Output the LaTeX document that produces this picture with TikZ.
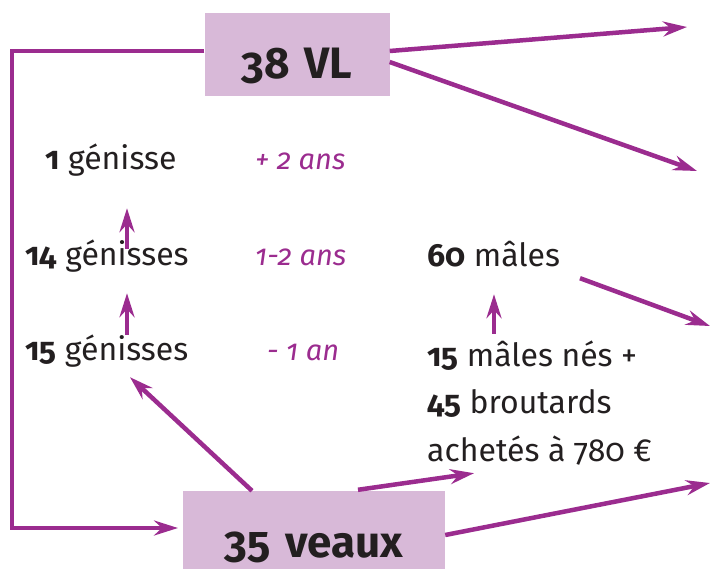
\documentclass[tikz,border=0pt]{standalone}
\usepackage{fontspec}
\setmainfont{Fira Sans}[Numbers=OldStyle]
\usetikzlibrary{arrows.meta}
\definecolor{violet}{HTML}{9B2C8F}
\definecolor{lilas}{HTML}{D8B9D8}
\definecolor{encre}{HTML}{231F20}

\begin{document}
\begin{tikzpicture}[x=1pt, y=-1pt]
        \tikzstyle{box}=[fill=lilas,text=encre,inner sep=0pt,align=center,font=\fontsize{44}{46}\selectfont\bfseries]
        \tikzstyle{count}=[anchor=base west,inner sep=0pt,text=encre,text height=20pt,text depth=6pt,font=\fontsize{32}{34}\selectfont]
        \tikzstyle{age}=[anchor=base west,inner sep=0pt,text=violet,font=\fontsize{29}{32}\selectfont\itshape]
        \tikzstyle{flow}=[draw=violet,line width=4.5pt,-{Stealth[length=24pt,width=15pt,inset=8pt]}]

        \useasboundingbox (0,0) rectangle (710,568);

        \node[box,anchor=base,text width=185pt,text height=65pt,text depth=18pt] (VL) at (297,78) {38 VL};
        \node[box,anchor=base,text width=262pt,text height=66pt,text depth=22pt] (V) at (314,557) {35 veaux};

        \node[count] (G_1) at (45,169)  {\textbf{1} génisse};
        \node[count] (G_2) at (25,265)  {\textbf{14} génisses};
        \node[count] (G_3) at (25,360)  {\textbf{15} génisses};

        \node[age] (A_1) at (255,169) {+ 2 ans};
        \node[age] (A_2) at (255,265) {1-2 ans};
        \node[age] (A_3) at (267,360) {- 1 an};

        \node[count] (M_1) at (427,266) {\textbf{60} mâles};
        \node[count] (M_2) at (427,366) {\textbf{15} mâles nés +};
        \node[count] (M_3) at (427,413) {\textbf{45} broutards};
        \node[count] (M_4) at (427,461) {achetés à 780 €};

        \coordinate (O_1) at (687,27);
        \coordinate (O_2) at (697,171);
        \coordinate (O_3) at (710,326);
        \coordinate (O_4) at (710,483);
        \coordinate (L) at (178,528);

        \draw[flow] ([yshift=3.5pt]VL.west) -- (12,51) |- (L);
        \draw[flow] ([yshift=3.5pt]VL.east) -- (O_1);
        \draw[flow] ([yshift=-7.5pt]VL.east) -- (O_2);
        \draw[flow] ([xshift=153pt,yshift=-6pt]M_1.south west) -- (O_3);
        \draw[flow] (V.east) -- (O_4);

        \draw[flow] ([xshift=102pt,yshift=-4pt]G_2.north west) -- ([xshift=82pt,yshift=-33pt]G_1.south west);
        \draw[flow] ([xshift=102pt,yshift=5pt]G_3.north west) -- ([xshift=102pt,yshift=-22pt]G_2.south west);
        \draw[flow] ([xshift=-62pt]V.north) -- ([xshift=105pt,yshift=-11pt]G_3.south west);
        \draw[flow] ([xshift=67pt,yshift=12pt]M_2.north west) -- ([xshift=67pt,yshift=-22pt]M_1.south west);
        \draw[flow] ([xshift=44pt,yshift=1pt]V.north) -- ([xshift=47pt,yshift=-6pt]M_4.south west);
\end{tikzpicture}
\end{document}
